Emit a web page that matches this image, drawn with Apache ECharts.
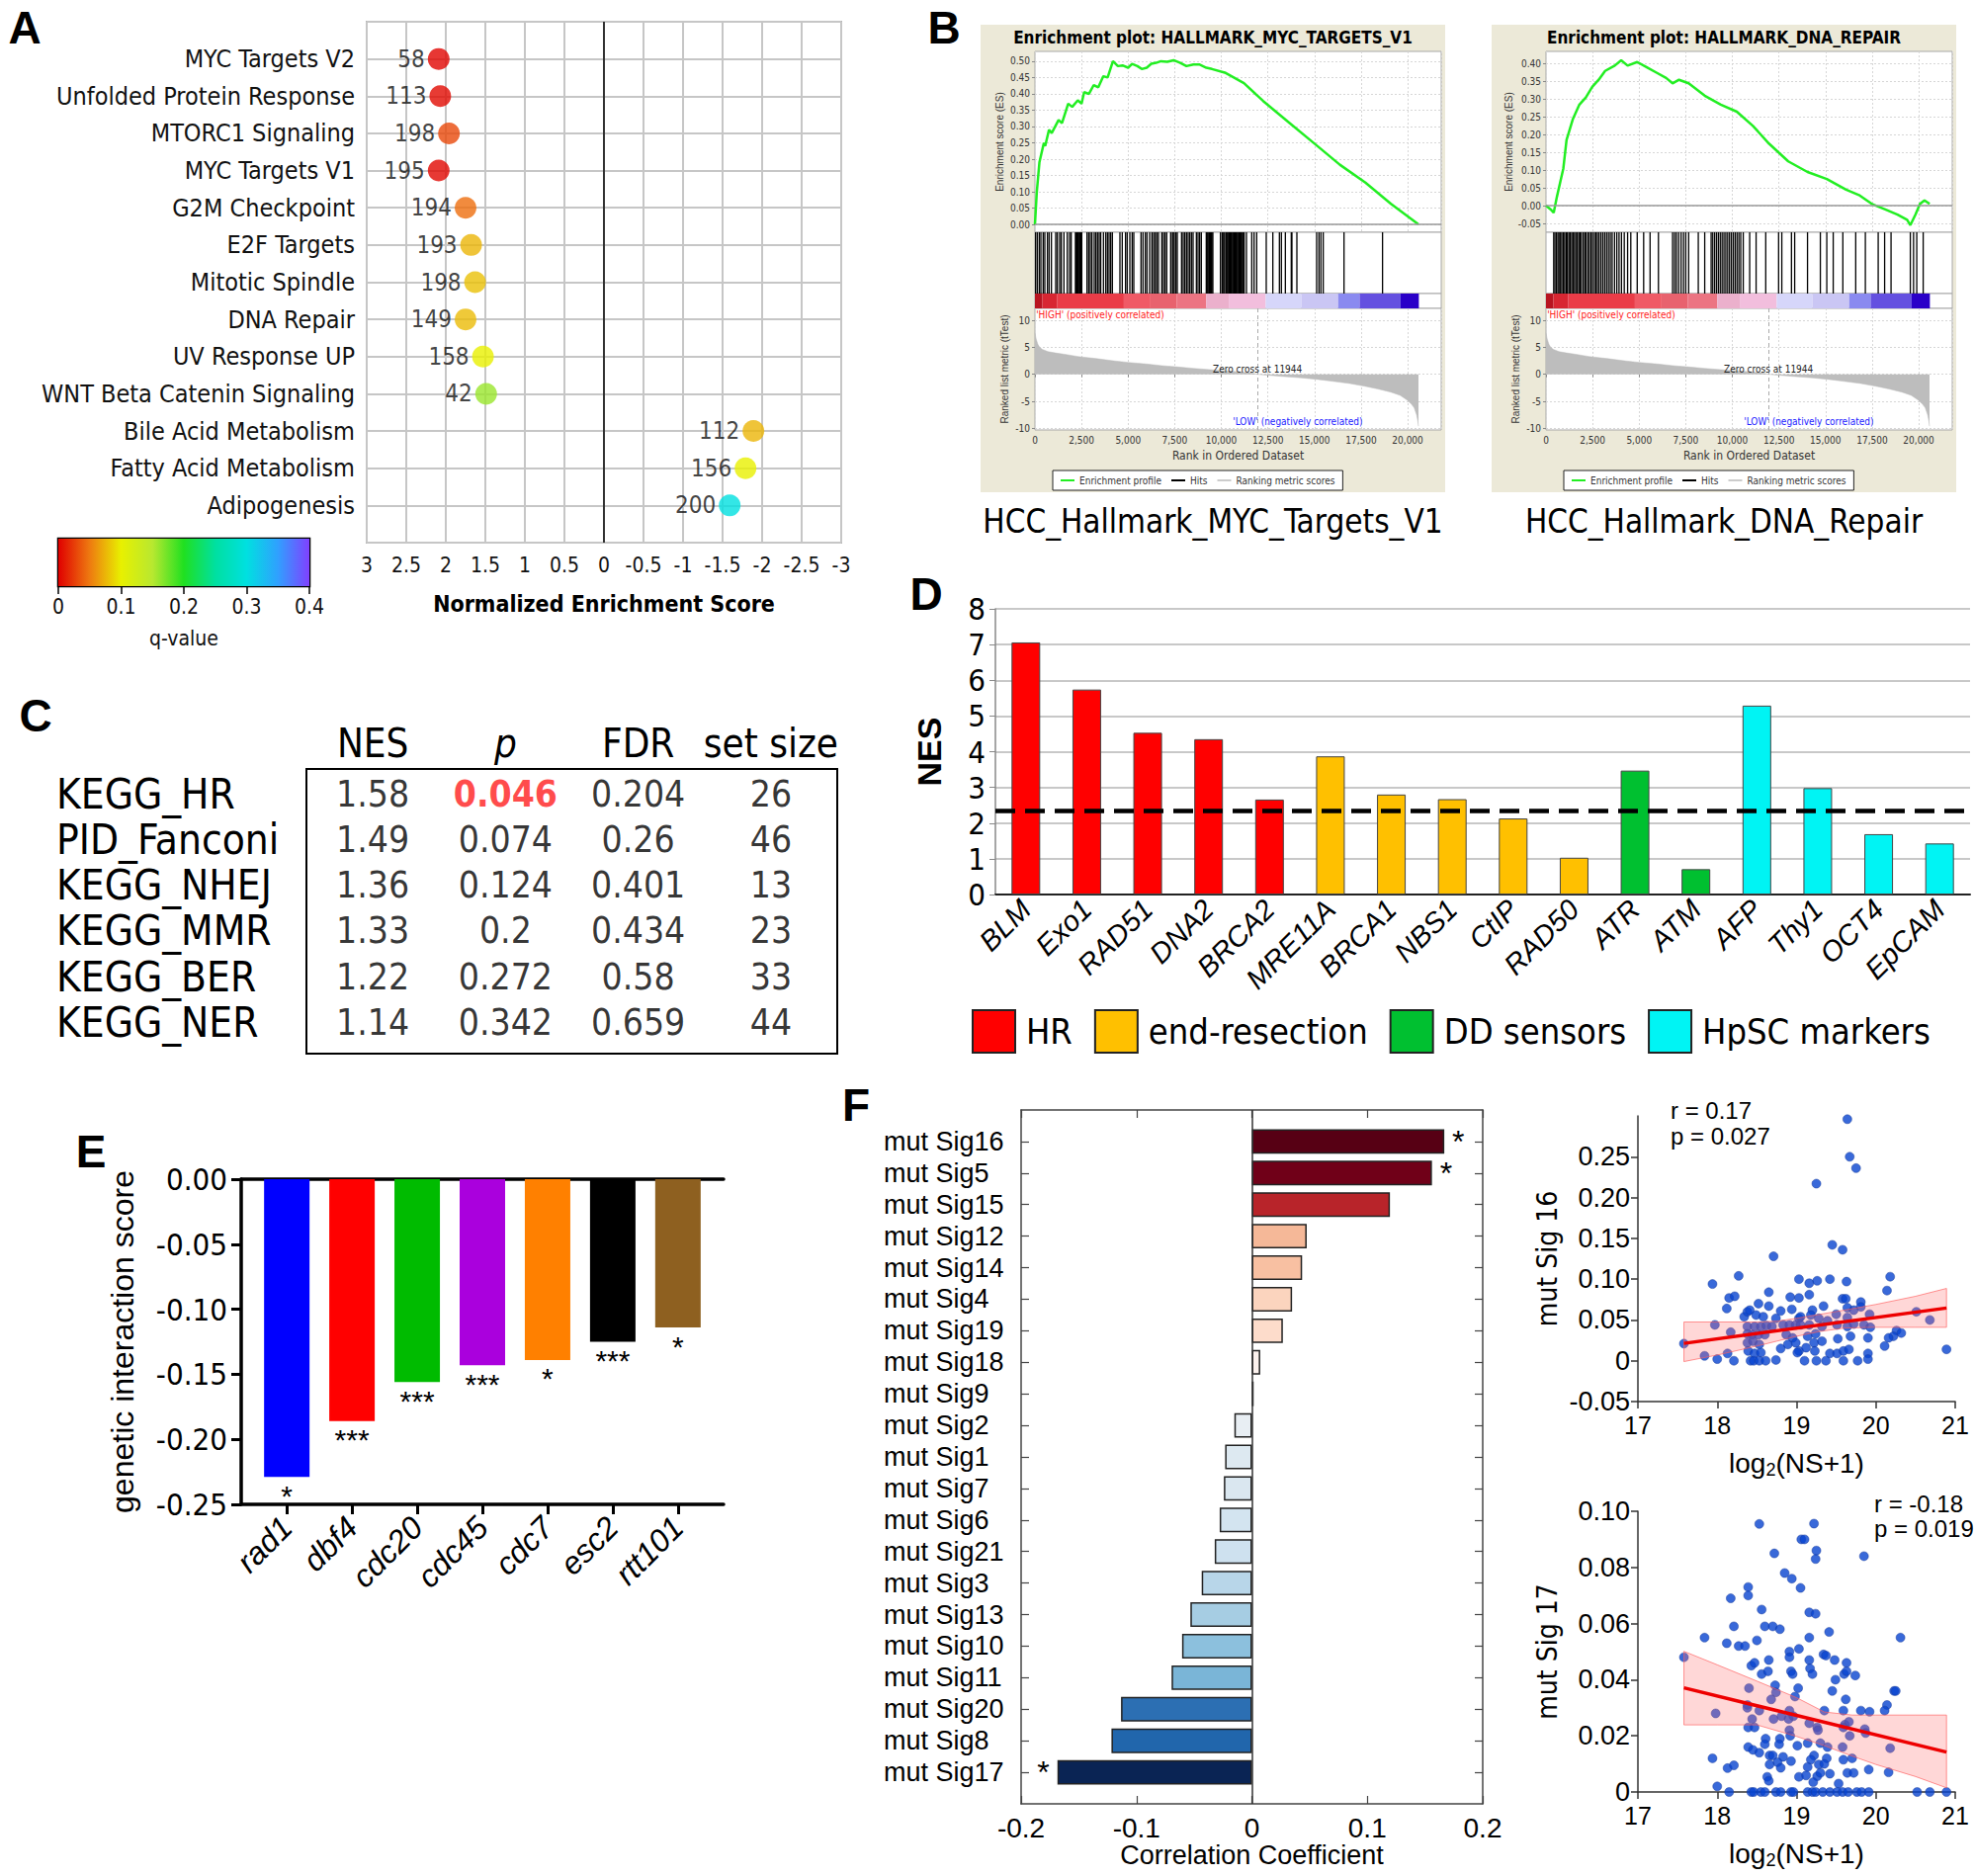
<!DOCTYPE html>
<html><head><meta charset="utf-8">
<script src="https://cdn.jsdelivr.net/npm/echarts@6/dist/echarts.min.js"></script>
<style>html,body{margin:0;padding:0;background:#fff}#main{width:1997px;height:1898px}</style>
</head><body><div id="main"></div>
<script>
// ================= DATA =================
// Panel A
const catsA = ['MYC Targets V2','Unfolded Protein Response','MTORC1 Signaling','MYC Targets V1','G2M Checkpoint','E2F Targets','Mitotic Spindle','DNA Repair','UV Response UP','WNT Beta Catenin Signaling','Bile Acid Metabolism','Fatty Acid Metabolism','Adipogenesis'];
const nesA = [2.09,2.07,1.96,2.09,1.75,1.68,1.63,1.75,1.53,1.49,-1.89,-1.79,-1.59];
const sizeA = [58,113,198,195,194,193,198,149,158,42,112,156,200];
const qA = [0.002,0.004,0.03,0.003,0.045,0.075,0.08,0.078,0.1,0.16,0.075,0.1,0.3];

// Panel B
const esRankMyc = [0,100,240,480,550,755,900,1270,1450,1785,2000,2300,2500,2640,2900,3156,3400,3670,3900,4185,4450,4700,5000,5214,5500,5730,6000,6243,6500,6760,7100,7443,7800,8130,8500,8815,9200,9500,10190,11216,12245,13617,14990,16360,17733,19105,20580];
const esMyc = [0,0.10,0.19,0.25,0.24,0.29,0.28,0.32,0.31,0.37,0.36,0.38,0.37,0.405,0.40,0.427,0.42,0.454,0.45,0.50,0.485,0.487,0.48,0.492,0.485,0.476,0.48,0.492,0.495,0.50,0.498,0.503,0.495,0.485,0.49,0.49,0.48,0.476,0.465,0.433,0.378,0.313,0.248,0.183,0.128,0.063,0];
const hitsMyc = [35,124,230,318,442,530,672,760,884,1114,1202,1326,1414,1556,1733,1856,1945,2175,2200,2263,2300,2334,2380,2422,2470,2511,2793,2882,2970,3059,3182,3271,3359,3448,3530,3677,3801,3890,3978,4066,4155,4561,4685,4862,4950,5092,5216,5304,5693,5799,5923,6011,6153,6276,6365,6453,6542,6630,6807,6895,6984,7072,7284,7300,7390,7420,7479,7567,7638,7868,7956,8044,8133,8221,8310,8398,8486,8663,8752,8840,8928,9194,9240,9282,9330,9370,9410,9459,9500,9547,9954,10042,10080,10131,10180,10254,10300,10343,10390,10431,10470,10520,10560,10608,10650,10696,10740,10785,10830,10873,10920,10962,11000,11050,11090,11138,11180,11227,11350,11633,11757,11899,12411,12765,13118,13224,13437,13755,13790,14056,15116,15240,15346,15470,16584,18652];
const esRankDna = [0,241,414,586,759,931,1103,1276,1448,1793,2138,2483,2828,3172,3690,4034,4379,4896,5414,5931,6448,6793,7138,7655,8517,9379,10241,11103,11966,13000,14034,15069,16103,16793,17483,18172,18862,19379,19552,19828,20069,20310,20586];
const esDna = [0,-0.01,-0.02,0.025,0.065,0.105,0.185,0.215,0.245,0.285,0.305,0.335,0.355,0.38,0.395,0.41,0.395,0.405,0.39,0.375,0.36,0.345,0.355,0.345,0.31,0.285,0.265,0.225,0.175,0.125,0.095,0.075,0.045,0.03,0.005,-0.01,-0.025,-0.04,-0.055,-0.025,0.005,0.015,0.005];
const hitsDna = [414,480,560,640,700,780,850,930,1000,1080,1150,1230,1300,1380,1450,1530,1600,1680,1760,1830,1900,2000,2080,2150,2250,2330,2420,2500,2600,2680,2760,2850,2950,3050,3150,3250,3350,3450,3550,3680,3800,3920,4050,4200,4379,4551,4896,5241,5586,6034,6793,6900,7000,7120,7250,7380,7500,7655,8172,8517,8862,8950,9050,9150,9250,9350,9450,9550,9650,9750,9850,9950,10050,10150,10250,10350,10450,10586,10930,11275,11792,12482,12654,13172,13344,14034,14723,15068,15413,15930,16620,17137,17826,18171,18516,19551,19724,19896,20241];
const metricRank = [0,60,150,250,400,700,1100,1600,2300,3300,4200,5000,6000,6800,7700,8500,9400,10200,11000,11600,11944,12600,13400,14300,15200,16000,16900,17700,18400,19100,19600,19950,20200,20350,20480,20540,20580];
const metricVal = [7.7,6.6,5.6,5.0,4.6,4.2,3.95,3.7,3.3,2.9,2.5,2.2,1.9,1.6,1.35,1.1,0.85,0.65,0.45,0.25,0,-0.2,-0.42,-0.65,-0.95,-1.3,-1.7,-2.2,-2.7,-3.3,-3.9,-4.7,-5.5,-6.2,-7.5,-8.5,-9.6];
const zeroCross = 11944;
const cbStart = [0,400,1200,4770,6200,7600,9190,10400,12380,14300,16270,17420,19620];
const cbEnd = 20600;
const esTicksMyc = [0,0.05,0.1,0.15,0.2,0.25,0.3,0.35,0.4,0.45,0.5];
const esTicksDna = [-0.05,0,0.05,0.1,0.15,0.2,0.25,0.3,0.35,0.4];
const metricTicks = [-10,-5,0,5,10];

// Panel C
const headC = ['NES','p','FDR','set size'];
const rowsC = ['KEGG_HR','PID_Fanconi','KEGG_NHEJ','KEGG_MMR','KEGG_BER','KEGG_NER'];
const nesC = ['1.58','1.49','1.36','1.33','1.22','1.14'];
const pC = [0.046,0.074,0.124,0.2,0.272,0.342];
const fdrC = [0.204,0.26,0.401,0.434,0.58,0.659];
const sizeC = [26,46,13,23,33,44];

// Panel D
const catsD = ['BLM','Exo1','RAD51','DNA2','BRCA2','MRE11A','BRCA1','NBS1','CtIP','RAD50','ATR','ATM','AFP','Thy1','OCT4','EpCAM'];
const nesD = [7.06,5.74,4.53,4.35,2.66,3.87,2.80,2.67,2.13,1.03,3.47,0.71,5.29,2.98,1.69,1.43];
const groupD = [0,0,0,0,0,1,1,1,1,1,2,2,3,3,3,3];
const groupNames = ['HR','end-resection','DD sensors','HpSC markers'];
const thresholdD = 2.35;

// Panel E
const catsE = ['rad1','dbf4','cdc20','cdc45','cdc7','esc2','rtt101'];
const valsE = [-0.229,-0.186,-0.156,-0.143,-0.139,-0.125,-0.114];
const starsE = ['*','***','***','***','*','***','*'];

// Panel F
const sigNames = ['mut Sig16','mut Sig5','mut Sig15','mut Sig12','mut Sig14','mut Sig4','mut Sig19','mut Sig18','mut Sig9','mut Sig2','mut Sig1','mut Sig7','mut Sig6','mut Sig21','mut Sig3','mut Sig13','mut Sig10','mut Sig11','mut Sig20','mut Sig8','mut Sig17'];
const corrF = [0.1667,0.156,0.1196,0.0475,0.0435,0.0348,0.0268,0.0072,0.0015,-0.0152,-0.0232,-0.0243,-0.0279,-0.0322,-0.0435,-0.0533,-0.0605,-0.0696,-0.1134,-0.1217,-0.1685];
const starsF = ['*','*','','','','','','','','','','','','','','','','','','','*'];

const sig16Pts = [[17.58,0.021],[17.84,0.006],[18.0,0.002],[18.13,0.009],[18.21,0.0],[17.97,0.044],[18.17,0.035],[17.94,0.094],[18.27,0.104],[18.12,0.064],[18.15,0.077],[18.22,0.079],[18.71,0.128],[18.52,0.07],[18.65,0.084],[18.65,0.067],[18.34,0.054],[18.38,0.06],[18.41,0.062],[18.49,0.056],[18.58,0.054],[18.38,0.042],[18.47,0.042],[18.55,0.042],[18.62,0.043],[18.69,0.042],[18.38,0.033],[18.44,0.032],[18.52,0.032],[18.60,0.032],[18.38,0.022],[18.45,0.024],[18.53,0.020],[18.39,0.012],[18.47,0.009],[18.55,0.010],[18.42,0.0],[18.46,0.0],[18.53,0.0],[18.61,0.0],[18.74,0.001],[18.80,0.015],[18.74,0.052],[18.80,0.061],[18.94,0.063],[18.92,0.078],[19.03,0.077],[19.03,0.100],[18.83,0.044],[18.91,0.044],[18.99,0.044],[18.87,0.032],[18.95,0.028],[18.89,0.020],[18.99,0.022],[19.03,0.012],[19.03,0.052],
[19.64,0.296],[19.67,0.250],[19.75,0.236],[19.25,0.217],[19.45,0.142],[19.58,0.136],[19.16,0.095],[19.26,0.098],[19.42,0.100],[19.63,0.097],[20.18,0.103],[20.14,0.086],[19.16,0.081],[19.58,0.076],[19.62,0.076],[19.81,0.072],[19.34,0.067],[19.20,0.062],[19.64,0.065],[19.72,0.062],[19.81,0.066],[19.92,0.057],[19.05,0.054],[19.18,0.056],[19.28,0.052],[19.39,0.049],[19.50,0.057],[19.64,0.053],[20.51,0.060],[20.68,0.050],[19.05,0.044],[19.16,0.044],[19.32,0.042],[19.51,0.044],[19.64,0.042],[19.72,0.045],[19.85,0.044],[19.93,0.041],[19.14,0.030],[19.24,0.033],[19.52,0.027],[19.68,0.030],[19.90,0.028],[20.26,0.037],[20.32,0.034],[20.22,0.030],[20.16,0.028],[20.11,0.018],[19.22,0.022],[19.32,0.024],[19.12,0.016],[19.23,0.012],[19.01,0.010],[19.42,0.009],[19.51,0.009],[19.59,0.012],[19.66,0.014],[19.90,0.009],[20.89,0.014],[19.10,0.0],[19.25,0.0],[19.37,0.0],[19.59,0.0],[19.77,0.0],[19.90,0.002]];
const sig17Pts = [[17.58,0.048],[17.84,0.055],[17.94,0.012],[17.98,0.028],[18.0,0.002],[18.13,0.0085],[18.21,0.0095],[18.15,0.0],[18.12,0.053],[18.17,0.069],[18.21,0.059],[18.27,0.052],[18.35,0.052],[18.39,0.073],[18.39,0.070],[18.53,0.0955],[18.56,0.065],[18.50,0.054],[18.60,0.059],[18.70,0.059],[18.79,0.058],[18.72,0.085],[18.85,0.078],[18.94,0.076],[19.06,0.09],[19.03,0.051],[18.91,0.050],[18.91,0.048],[18.43,0.045],[18.47,0.046],[18.65,0.047],[18.56,0.042],[18.64,0.043],[18.93,0.043],[18.95,0.042],[18.73,0.038],[18.74,0.0355],[18.68,0.033],[18.98,0.034],[19.02,0.037],[18.40,0.037],[18.38,0.031],[18.38,0.030],[18.53,0.029],[18.44,0.026],[18.39,0.023],[18.47,0.023],[18.71,0.026],[18.81,0.027],[18.90,0.026],[18.91,0.029],[18.96,0.027],[18.91,0.022],[18.92,0.020],[19.01,0.0165],[18.39,0.016],[18.45,0.015],[18.53,0.014],[18.61,0.019],[18.60,0.017],[18.66,0.013],[18.70,0.013],[18.79,0.019],[18.78,0.017],[18.83,0.0125],[18.76,0.0106],[18.80,0.0086],[18.93,0.011],[18.66,0.0098],[18.63,0.0054],[18.65,0.004],[19.03,0.0054],[18.43,0.0],[18.46,0.0],[18.55,0.0],[18.60,0.0],[18.74,0.0],[18.80,0.0],[18.93,0.0],[18.96,0.0],
[19.22,0.0956],[19.10,0.09],[19.25,0.086],[19.24,0.083],[19.85,0.084],[19.05,0.0727],[19.16,0.064],[19.24,0.0635],[19.41,0.057],[20.31,0.055],[19.16,0.055],[19.34,0.049],[19.37,0.0486],[19.16,0.047],[19.48,0.047],[19.63,0.046],[19.17,0.044],[19.20,0.042],[19.60,0.042],[19.63,0.043],[19.74,0.0415],[19.49,0.040],[19.45,0.036],[19.62,0.033],[20.23,0.036],[20.25,0.036],[20.14,0.031],[20.11,0.029],[19.81,0.029],[19.92,0.0286],[19.35,0.029],[19.59,0.029],[19.16,0.0245],[19.26,0.023],[19.27,0.022],[19.61,0.024],[19.66,0.025],[19.59,0.023],[19.86,0.0224],[19.87,0.021],[19.67,0.020],[20.18,0.0156],[19.14,0.0174],[19.30,0.0174],[19.39,0.016],[19.58,0.016],[19.22,0.013],[19.18,0.0115],[19.38,0.012],[19.28,0.0098],[19.14,0.0089],[19.35,0.010],[19.59,0.0115],[19.70,0.012],[19.91,0.008],[20.16,0.007],[19.64,0.0068],[19.72,0.0068],[19.12,0.0059],[19.26,0.0056],[19.30,0.0068],[19.42,0.0065],[19.21,0.0035],[19.53,0.003],[19.14,0],[19.20,0],[19.24,0],[19.33,0],[19.42,0],[19.51,0],[19.58,0],[19.65,0],[19.76,0],[19.82,0],[19.91,0],[20.52,0],[20.68,0],[20.89,0]];
const bandX16 = [17.58,18.0,18.5,18.75,19.0,19.3,19.6,20.0,20.5,20.89];
const lower16 = [-0.001,0.007,0.018,0.024,0.030,0.036,0.040,0.041,0.041,0.041];
const upper16 = [0.0475,0.0475,0.0475,0.0485,0.052,0.057,0.062,0.069,0.079,0.0886];
const fit16 = [[17.58,0.0213],[20.89,0.0646]];
const bandX17 = [17.58,18.0,18.5,19.0,19.35,19.7,20.0,20.5,20.89];
const upper17 = [0.0501,0.0453,0.0395,0.0336,0.0285,0.0274,0.0274,0.0274,0.0274];
const lower17 = [0.0239,0.0239,0.0239,0.0198,0.0165,0.0128,0.0098,0.0055,0.0015];
const fit17 = [[17.58,0.0371],[20.89,0.0142]];

// ================= STYLES =================
const NARROW = "'Liberation Sans Narrow','Arial Narrow','DejaVu Sans Condensed',sans-serif";
const SANS = "'Liberation Sans',Arial,Helvetica,sans-serif";
const qColors = ['#e00000','#ee7a10','#e8f000','#b8e830','#20e020','#00e0a0','#00e0e0','#30a0ff','#8040ff'];
const cbColor = ['#b81420','#d82632','#ea3c48','#f05a66','#e8626e','#ec7482','#ebb0cc','#f2bedd','#d6d6fa','#cac6f4','#8a8af0','#6450e0','#2a00c8'];
const colorsD = ['#ff0000','#ffc000','#00c030','#00f4f4'];
const colorsE = ['#0000ff','#ff0000','#00bb00','#aa00dd','#ff8000','#000000','#8e6020'];
const colorsF = ['#570014','#700018','#b8242a','#f5b898','#f8c0a2','#fbd4be','#fddccb','#fcf2ee','#f7f7f7','#e8eef3','#dde9f1','#dae7f0','#d3e4f0','#cee1ef','#b8d6e9','#a6cde3','#8cc0dd','#7ab5d7','#2c6fb3','#2166ac','#0a2454'];

function zip(a,b){ return a.map((v,i)=>[v,b[i]]); }
const grids=[], xAxes=[], yAxes=[], series=[], graphics=[], legends=[];
function addGrid(g){ grids.push(Object.assign({containLabel:false, outerBoundsMode:'none'}, g)); return grids.length-1; }
function addX(a){ xAxes.push(a); return xAxes.length-1; }
function addY(a){ yAxes.push(a); return yAxes.length-1; }
function txt(x,y,text,font,opts){ graphics.push({type:'text', x:x, y:y, style:Object.assign({text:text, font:font, fill:'#000', align:'left', verticalAlign:'middle'}, opts||{})}); }

// ================= PANEL A =================
const gA = addGrid({left:371, top:22, width:480, height:527, show:true, borderColor:'#b4b4b4', borderWidth:2});
const xA = addX({gridIndex:gA, type:'value', inverse:true, min:-3, max:3, interval:0.5,
  axisLine:{show:false}, axisTick:{show:false}, splitLine:{show:true, lineStyle:{color:'#c6c6c6', width:2}},
  axisLabel:{fontFamily:NARROW, fontSize:21, color:'#111', margin:12},
  name:'Normalized Enrichment Score', nameLocation:'middle', nameGap:50,
  nameTextStyle:{fontFamily:NARROW, fontWeight:'bold', fontSize:23, color:'#000'}});
const yA = addY({gridIndex:gA, type:'value', inverse:true, min:0, max:14, interval:1,
  axisLine:{show:false}, axisTick:{show:false}, splitLine:{show:true, lineStyle:{color:'#c6c6c6', width:2}},
  axisLabel:{fontFamily:NARROW, fontSize:25, color:'#111', margin:12, formatter:v=>catsA[v-1]||''}});
series.push({type:'scatter', xAxisIndex:xA, yAxisIndex:yA, symbolSize:22, z:5,
  data:nesA.map((v,i)=>[v,i+1,qA[i],sizeA[i]]),
  label:{show:true, position:'left', distance:3, formatter:p=>p.value[3], fontFamily:NARROW, fontSize:24, color:'#111'},
  markLine:{silent:true, symbol:'none', label:{show:false}, lineStyle:{color:'#000', width:1.5, type:'solid'}, data:[{xAxis:0}]}});

const gQ = addGrid({left:59, top:545, width:254, height:48, show:true, borderColor:'#000', borderWidth:2.5});
const xQ = addX({gridIndex:gQ, type:'value', min:0, max:0.4, interval:0.1, axisLine:{show:false},
  axisTick:{show:true, length:8, lineStyle:{color:'#000', width:1.5}}, splitLine:{show:false},
  axisLabel:{fontFamily:NARROW, fontSize:21, color:'#111', margin:10},
  name:'q-value', nameLocation:'middle', nameGap:42, nameTextStyle:{fontFamily:NARROW, fontSize:21, color:'#111'}});
const yQ = addY({gridIndex:gQ, type:'value', min:0, max:1, show:false});
series.push({type:'line', xAxisIndex:xQ, yAxisIndex:yQ, data:[[0,0.5]], symbol:'none', lineStyle:{opacity:0}, silent:true,
  markArea:{silent:true, data:[[{xAxis:0, yAxis:0, itemStyle:{color:{type:'linear',x:0,y:0,x2:1,y2:0,
    colorStops:qColors.map((c,i)=>({offset:i/(qColors.length-1), color:c}))}}},{xAxis:0.4, yAxis:1}]]}});

// ================= PANEL B =================
function gsea(dx, title, hcc, esR, esV, hits, esMin, esMax, esTicks){
  const L = 1047+dx, W = 411;
  graphics.push({type:'rect', z:-10, shape:{x:992+dx, y:25, width:470, height:473}, style:{fill:'#ece9d8'}});
  txt(992+dx+235, 38, title, `bold 17px ${NARROW}`, {align:'center'});
  txt(992+dx+235, 527, hcc, `33px ${NARROW}`, {align:'center'});
  const frame = {show:true, backgroundColor:'#fff', borderColor:'#a8a8a8', borderWidth:1};
  const gE = addGrid(Object.assign({left:L, top:52, width:W, height:183}, frame));
  const gH = addGrid(Object.assign({left:L, top:235, width:W, height:62}, frame));
  const gC = addGrid(Object.assign({left:L, top:297, width:W, height:15}, frame));
  const gM = addGrid(Object.assign({left:L, top:312, width:W, height:123}, frame));
  const dotted = {show:true, lineStyle:{color:'#d6d6d6', type:[2,2], width:1}};
  const xBase = {type:'value', min:0, max:21800, interval:2500, axisLine:{show:false}, axisTick:{show:false}, axisLabel:{show:false}, splitLine:{show:false}};
  const smallLab = {fontFamily:NARROW, fontSize:10, color:'#333'};
  const xE = addX(Object.assign({}, xBase, {gridIndex:gE, splitLine:dotted}));
  const yE = addY({gridIndex:gE, type:'value', min:esMin, max:esMax, axisLine:{show:false},
    axisTick:{show:true, customValues:esTicks, length:3, lineStyle:{color:'#888'}},
    axisLabel:Object.assign({customValues:esTicks, formatter:v=>v.toFixed(2), margin:5}, smallLab),
    splitLine:dotted, name:'Enrichment score (ES)', nameLocation:'middle', nameRotate:90, nameGap:31,
    nameTextStyle:{fontFamily:SANS, fontSize:10, color:'#333'}});
  series.push({type:'line', name:'Enrichment profile', xAxisIndex:xE, yAxisIndex:yE, data:zip(esR,esV), symbol:'none',
    lineStyle:{color:'#22ee22', width:2.5}, itemStyle:{color:'#22ee22'}, z:4,
    markLine:{symbol:'none', silent:true, label:{show:false}, lineStyle:{color:'#999', width:1.5, type:'solid'}, data:[{yAxis:0}]}});
  const xH = addX(Object.assign({}, xBase, {gridIndex:gH}));
  const yH = addY({gridIndex:gH, type:'value', min:0, max:1, show:false});
  series.push({type:'bar', name:'Hits', xAxisIndex:xH, yAxisIndex:yH, data:hits.map(r=>[r,1]), barWidth:1.3, itemStyle:{color:'#000'}, silent:true});
  const xC = addX(Object.assign({}, xBase, {gridIndex:gC}));
  const yC = addY({gridIndex:gC, type:'value', min:0, max:1, show:false});
  series.push({type:'line', xAxisIndex:xC, yAxisIndex:yC, data:[[0,0.5]], symbol:'none', lineStyle:{opacity:0}, silent:true,
    markArea:{silent:true, data:cbStart.map((s,i)=>[{xAxis:s, yAxis:0, itemStyle:{color:cbColor[i]}},{xAxis:(i+1<cbStart.length?cbStart[i+1]:cbEnd), yAxis:1}])}});
  const xM = addX(Object.assign({}, xBase, {gridIndex:gM, splitLine:dotted,
    axisTick:{show:true, length:3, lineStyle:{color:'#888'}},
    axisLabel:Object.assign({show:true, showMaxLabel:false, formatter:v=>v.toLocaleString('en-US'), margin:5}, smallLab),
    name:'Rank in Ordered Dataset', nameLocation:'middle', nameGap:20, nameTextStyle:{fontFamily:NARROW, fontSize:12, color:'#333'}}));
  const yM = addY({gridIndex:gM, type:'value', min:-10.3, max:12.2, axisLine:{show:false},
    axisTick:{show:true, customValues:metricTicks, length:3, lineStyle:{color:'#888'}},
    axisLabel:Object.assign({customValues:metricTicks, margin:5}, smallLab),
    splitLine:dotted, name:'Ranked list metric (tTest)', nameLocation:'middle', nameRotate:90, nameGap:26,
    nameTextStyle:{fontFamily:SANS, fontSize:10, color:'#333'}});
  series.push({type:'line', name:'Ranking metric scores', xAxisIndex:xM, yAxisIndex:yM, data:zip(metricRank,metricVal), symbol:'none',
    lineStyle:{width:0.5, color:'#bdbdbd'}, itemStyle:{color:'#cccccc'}, areaStyle:{color:'#bdbdbd', opacity:1},
    markLine:{symbol:'none', silent:true, label:{show:false}, lineStyle:{color:'#aaa', type:[4,3], width:1}, data:[{xAxis:zeroCross}]},
    markPoint:{symbol:'circle', symbolSize:0, silent:true,
      label:{show:true, position:'inside', fontFamily:NARROW, fontSize:10},
      data:[{coord:[zeroCross,0.9], label:{formatter:'Zero cross at '+zeroCross, color:'#222'}},
            {coord:[60,11], label:{formatter:"'HIGH' (positively correlated)", color:'#ff2020', align:'left'}},
            {coord:[14100,-8.7], label:{formatter:"'LOW' (negatively correlated)", color:'#2020ff'}}]}});
  legends.push({left:1065+dx, top:476, itemWidth:14, itemHeight:2, itemGap:10, padding:[5,8], borderColor:'#222', borderWidth:1,
    backgroundColor:'#fff', selectedMode:false, textStyle:{fontFamily:NARROW, fontSize:10, color:'#333'},
    data:[{name:'Enrichment profile', icon:'rect'},{name:'Hits', icon:'rect'},{name:'Ranking metric scores', icon:'rect'}]});
}
gsea(0, 'Enrichment plot: HALLMARK_MYC_TARGETS_V1', 'HCC_Hallmark_MYC_Targets_V1', esRankMyc, esMyc, hitsMyc, -0.024, 0.53, esTicksMyc);
gsea(517, 'Enrichment plot: HALLMARK_DNA_REPAIR', 'HCC_Hallmark_DNA_Repair', esRankDna, esDna, hitsDna, -0.075, 0.435, esTicksDna);

// ================= PANEL C =================
const gCt = addGrid({left:310, top:778, width:537, height:288, show:true, borderColor:'#000', borderWidth:2});
const xCt = addX({gridIndex:gCt, type:'category', data:headC, position:'top', axisLine:{show:false}, axisTick:{show:false}, splitLine:{show:false},
  axisLabel:{interval:0, fontFamily:NARROW, fontSize:40, color:'#000', margin:6, formatter:v=>v==='p'?'{it|p}':v,
    rich:{it:{fontStyle:'italic', fontFamily:NARROW, fontSize:40, color:'#000'}}}});
const yCt = addY({gridIndex:gCt, type:'value', inverse:true, min:-0.555, max:5.69, axisLine:{show:false}, axisTick:{show:false}, splitLine:{show:false},
  axisLabel:{customValues:rowsC.map((r,i)=>i), formatter:v=>rowsC[v], align:'left', margin:253, fontFamily:NARROW, fontSize:42, color:'#000'}});
const colsC = [nesC, pC, fdrC, sizeC];
const cellsC = [];
rowsC.forEach((r,ri)=>colsC.forEach((col,ci)=>{
  const sig = ci===1 && col[ri] < 0.05;
  cellsC.push({value:[ci,ri], label:{formatter:String(col[ri]), color:sig?'#ff1a1a':'#000', fontWeight:sig?'bold':'normal'}});
}));
series.push({type:'scatter', xAxisIndex:xCt, yAxisIndex:yCt, symbolSize:1, itemStyle:{color:'rgba(0,0,0,0)'}, silent:true, data:cellsC,
  label:{show:true, position:'inside', fontFamily:NARROW, fontSize:37}});

// ================= PANEL D =================
const gD = addGrid({left:1007, top:616, width:986, height:289});
const xD = addX({gridIndex:gD, type:'category', data:catsD, axisLine:{show:true, lineStyle:{color:'#222', width:2}}, axisTick:{show:false},
  axisLabel:{interval:0, rotate:45, fontStyle:'italic', fontFamily:SANS, fontSize:29, color:'#000', margin:10}});
const yD = addY({gridIndex:gD, type:'value', min:0, max:8, interval:1,
  axisLine:{show:true, onZero:false, lineStyle:{color:'#888', width:1.5}}, axisTick:{show:true, length:6, lineStyle:{color:'#888'}},
  splitLine:{show:true, lineStyle:{color:'#c8c8c8', width:2}},
  axisLabel:{fontFamily:NARROW, fontSize:31, color:'#000', margin:10},
  name:'NES', nameLocation:'middle', nameRotate:90, nameGap:50, nameTextStyle:{fontFamily:SANS, fontWeight:'bold', fontSize:34, color:'#000'}});
groupNames.forEach((gname,g)=>{
  const s = {type:'bar', name:gname, stack:'nes', xAxisIndex:xD, yAxisIndex:yD, barWidth:29,
    data:nesD.map((v,i)=>groupD[i]===g?v:'-'), itemStyle:{color:colorsD[g], borderColor:'#444', borderWidth:1}};
  if (g===0) s.markLine = {symbol:'none', silent:true, label:{show:false}, lineStyle:{color:'#000', width:4.5, type:[20,10]}, data:[{yAxis:thresholdD}], z:10};
  series.push(s);
});
legends.push({left:978, top:1016, width:1015, itemWidth:43, itemHeight:43, itemGap:22, selectedMode:false,
  textStyle:{fontFamily:NARROW, fontSize:36, color:'#000', padding:[0,0,0,6]},
  data:groupNames.map(n=>({name:n, icon:'rect', itemStyle:{borderColor:'#222', borderWidth:2}}))});

// ================= PANEL E =================
const gE2 = addGrid({left:244, top:1193, width:488, height:329});
const eLine = {show:true, onZero:false, lineStyle:{color:'#000', width:3.5}};
const xE2 = addX({gridIndex:gE2, type:'value', min:-0.7, max:6.7, position:'bottom', axisLine:eLine, splitLine:{show:false},
  axisTick:{show:true, customValues:catsE.map((c,i)=>i), length:10, lineStyle:{color:'#000', width:3}},
  axisLabel:{customValues:catsE.map((c,i)=>i), formatter:v=>catsE[v], rotate:45, fontStyle:'italic', fontFamily:SANS, fontSize:32, color:'#000', margin:18}});
addX({gridIndex:gE2, type:'value', min:-0.7, max:6.7, position:'top', axisLine:eLine, axisTick:{show:false}, axisLabel:{show:false}, splitLine:{show:false}});
const yE2 = addY({gridIndex:gE2, type:'value', min:-0.25, max:0, interval:0.05, axisLine:eLine,
  axisTick:{show:true, length:10, lineStyle:{color:'#000', width:3}}, splitLine:{show:false},
  axisLabel:{formatter:v=>v.toFixed(2), fontFamily:NARROW, fontSize:31, color:'#000', margin:14},
  name:'genetic interaction score', nameLocation:'middle', nameRotate:90, nameGap:104, nameTextStyle:{fontFamily:SANS, fontSize:32, color:'#000'}});
series.push({type:'bar', xAxisIndex:xE2, yAxisIndex:yE2, barWidth:46,
  data:valsE.map((v,i)=>({value:[i,v], itemStyle:{color:colorsE[i]}, label:{formatter:starsE[i]}})),
  label:{show:true, position:'bottom', distance:4, fontFamily:SANS, fontSize:30, color:'#000'}});

// ================= PANEL F (bars) =================
const gF = addGrid({left:1033, top:1123, width:467, height:702});
const catsFp = [''].concat(sigNames, ['']);
const fLine = {show:true, onZero:false, lineStyle:{color:'#444', width:1.5}};
const fTick = {show:true, inside:true, length:8, lineStyle:{color:'#444', width:1.2}};
const xF = addX({gridIndex:gF, type:'value', min:-0.2, max:0.2, interval:0.1, position:'bottom', axisLine:fLine, axisTick:fTick, splitLine:{show:false},
  axisLabel:{fontFamily:SANS, fontSize:28, color:'#000', margin:10},
  name:'Correlation Coefficient', nameLocation:'middle', nameGap:38, nameTextStyle:{fontFamily:SANS, fontSize:27, color:'#000'}});
addX({gridIndex:gF, type:'value', min:-0.2, max:0.2, interval:0.1, position:'top', axisLine:fLine, axisTick:fTick, axisLabel:{show:false}, splitLine:{show:false}});
const yF = addY({gridIndex:gF, type:'category', data:catsFp, inverse:true, boundaryGap:false, position:'left', axisLine:fLine,
  axisTick:Object.assign({interval:(i)=>i>0&&i<catsFp.length-1}, fTick), splitLine:{show:false},
  axisLabel:{interval:0, align:'left', fontFamily:SANS, fontSize:27, color:'#000', margin:139}});
addY({gridIndex:gF, type:'category', data:catsFp, inverse:true, boundaryGap:false, position:'right', axisLine:fLine,
  axisTick:Object.assign({interval:(i)=>i>0&&i<catsFp.length-1}, fTick), axisLabel:{show:false}, splitLine:{show:false}});
series.push({type:'bar', xAxisIndex:xF, yAxisIndex:yF, barWidth:'78%',
  itemStyle:{borderColor:'#222', borderWidth:1.5},
  label:{fontFamily:SANS, fontSize:32, color:'#000', distance:8},
  data:catsFp.map((c,i)=>{
    if (i===0 || i===catsFp.length-1) return '-';
    const v = corrF[i-1], st = starsF[i-1];
    return {value:v, itemStyle:{color:colorsF[i-1]}, label: st ? {show:true, formatter:st, position:v>0?'right':'left'} : {show:false}};
  }),
  markLine:{symbol:'none', silent:true, label:{show:false}, lineStyle:{color:'#333', width:1.5, type:'solid'}, data:[{xAxis:0}]}});

// ================= PANEL F (scatter) =================
function scatterPanel(top, h, ymin, ymax, yint, yname, pts, bandX, lower, upper, fit){
  const g = addGrid({left:1657, top:top, width:321, height:h});
  const ax = {show:true, onZero:false, lineStyle:{color:'#333', width:1.5}};
  const tk = {show:true, length:7, lineStyle:{color:'#333', width:1.5}};
  const x = addX({gridIndex:g, type:'value', min:17, max:21, interval:1, axisLine:ax, axisTick:tk, splitLine:{show:false},
    axisLabel:{fontFamily:SANS, fontSize:25, color:'#000', margin:11},
    name:'log{s|2}(NS+1)', nameLocation:'middle', nameGap:46,
    nameTextStyle:{fontFamily:SANS, fontSize:28, color:'#000', rich:{s:{fontFamily:SANS, fontSize:18, color:'#000', padding:[14,0,0,0]}}}});
  const y = addY({gridIndex:g, type:'value', min:ymin, max:ymax, interval:yint, axisLine:ax, axisTick:tk, splitLine:{show:false},
    axisLabel:{showMaxLabel:ymax>0.2?false:true, formatter:v=>Math.abs(v)<1e-9?'0':v.toFixed(2), fontFamily:SANS, fontSize:27, color:'#000', margin:8},
    name:yname, nameLocation:'middle', nameRotate:90, nameGap:78, nameTextStyle:{fontFamily:NARROW, fontSize:28, color:'#000'}});
  series.push({type:'scatter', xAxisIndex:x, yAxisIndex:y, data:pts, symbolSize:9, itemStyle:{color:'#0844d0', borderColor:'#1a3a9a', borderWidth:0.6}, z:3});
  series.push({type:'custom', xAxisIndex:x, yAxisIndex:y, data:[[bandX[0], lower[0]]], silent:true, z:4,
    renderItem:(params, api)=>{
      const up = bandX.map((bx,i)=>api.coord([bx, upper[i]]));
      const lo = bandX.map((bx,i)=>api.coord([bx, lower[i]])).reverse();
      return {type:'polygon', shape:{points:up.concat(lo)}, style:{fill:'rgba(255,110,110,0.28)', stroke:'rgba(255,90,90,0.65)', lineWidth:1}};
    }});
  series.push({type:'line', xAxisIndex:x, yAxisIndex:y, data:fit, symbol:'none', lineStyle:{color:'#ee0000', width:3.5}, z:5, silent:true});
}
scatterPanel(1129, 289, -0.05, 0.3, 0.05, 'mut Sig 16', sig16Pts, bandX16, lower16, upper16, fit16);
scatterPanel(1529, 284, 0, 0.1, 0.02, 'mut Sig 17', sig17Pts, bandX17, lower17, upper17, fit17);
txt(1690, 1123, 'r = 0.17', `24px ${SANS}`);
txt(1690, 1149, 'p = 0.027', `24px ${SANS}`);
txt(1896, 1521, 'r = -0.18', `24px ${SANS}`);
txt(1896, 1546, 'p = 0.019', `24px ${SANS}`);

// Panel letters
[['A',25,28],['B',955,28],['C',36,724],['D',937,601],['E',92,1165],['F',866,1118]].forEach(l=>{
  txt(l[1], l[2], l[0], `bold 46px ${SANS}`, {align:'center'});
});

const chart = echarts.init(document.getElementById('main'), null, {renderer:'svg'});
chart.setOption({
  animation:false, backgroundColor:'#fff',
  grid:grids, xAxis:xAxes, yAxis:yAxes, series:series, legend:legends,
  visualMap:[{type:'continuous', show:false, seriesIndex:0, dimension:2, min:0, max:0.4, inRange:{color:qColors}}],
  graphic:{elements:graphics}
});
</script></body></html>
